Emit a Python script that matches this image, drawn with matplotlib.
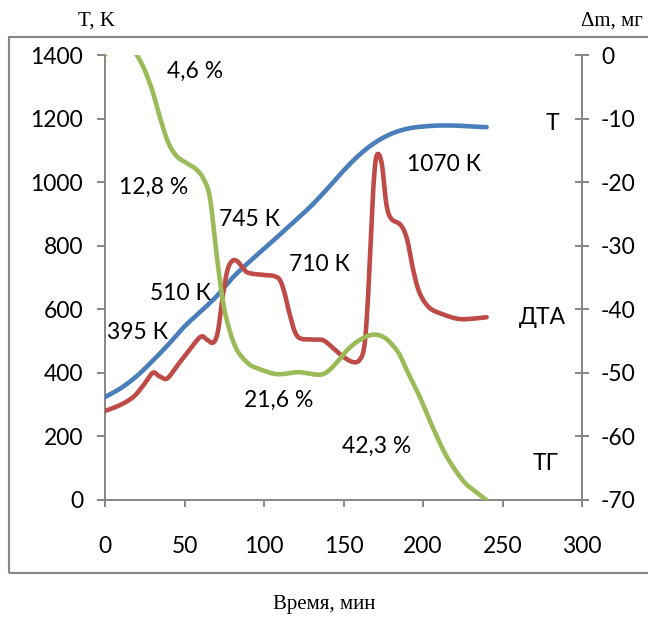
import numpy as np
import matplotlib
matplotlib.use("Agg")
import matplotlib.pyplot as plt
from matplotlib.patches import Rectangle

plt.rcParams["axes.unicode_minus"] = False

# Temperature curve T (K) vs time (min)
t_T = [0, 10, 20, 30, 40, 50, 60, 70, 80, 90, 100, 110, 120, 130, 140, 150,
       160, 170, 180, 190, 200, 210, 220, 230, 240]
T_vals = [324, 352, 390, 438, 490, 546, 592, 640, 698, 746, 790, 835, 880, 927,
          980, 1036, 1086, 1125, 1152, 1168, 1175, 1178, 1178, 1175, 1173]

# DTA curve, drawn against the temperature scale
t_dta = [0, 10, 18, 24, 30, 34, 39, 45, 52, 60, 64, 68, 71, 74, 77, 80, 83, 86, 90,
         100, 106, 110, 113, 116, 121, 130, 137, 143, 150, 156, 160, 163, 165, 167,
         169, 171, 174, 177, 180, 186, 190, 194, 198, 204, 212, 222, 230, 240]
dta_vals = [280, 300, 325, 360, 400, 390, 382, 420, 465, 513, 505, 495, 530, 640, 723,
            752, 752, 735, 715, 708, 705, 692, 650, 588, 515, 505, 503, 480, 450, 434,
            440, 480, 600, 800, 1000, 1085, 1060, 930, 885, 865, 820, 720, 650, 605,
            585, 570, 570, 575]

# TG curve, mass change (mg)
t_tg = [0, 8, 14, 20, 25, 30, 35, 40, 45, 50, 57, 62, 66, 70, 74, 78, 83, 90,
        96, 108, 121, 128, 135, 140, 146, 152, 158, 165, 171, 176, 180, 185, 190, 198,
        206, 215, 225, 232, 240]
tg_vals = [0, 2, 2, 0, -2.4, -5.8, -10.2, -13.9, -15.9, -16.8, -17.9, -19.5, -22.5,
           -31, -38.5, -43, -46.4, -48.5, -49.3, -50.2, -49.9, -50.1, -50.3,
           -49.8, -48.3, -46.5, -45.2, -44.2, -44.0, -44.5, -45.4, -47, -49.7, -53.8,
           -58.5, -63.2, -66.9, -68.5, -70]

T_ticks = [0, 200, 400, 600, 800, 1000, 1200, 1400]
m_ticks = [0, -10, -20, -30, -40, -50, -60, -70]
t_ticks = [0, 50, 100, 150, 200, 250, 300]

# Annotation texts placed in (time, T) coordinates
notes = ["4,6 %", "12,8 %", "745 К", "710 К", "510 К", "395 К", "21,6 %", "42,3 %",
         "1070 К", "Т", "ДТА", "ТГ"]
note_t = [56.5, 30.5, 91.0, 135.0, 47.5, 20.5, 109.0, 170.8, 213.0, 281.5, 275.0, 277.0]
note_T = [1350, 985, 884, 742, 651, 528, 315, 170, 1054, 1183, 573, 116]

BLUE = "#4A7EBB"
RED = "#BE4B48"
GREEN = "#9BBB59"
GRAY = "#868686"
SANS = ["Lato", "Noto Sans", "DejaVu Sans"]
SERIF = ["Liberation Serif", "DejaVu Serif"]


def catmull_rom(x, y, n=24):
    p = np.column_stack([x, y]).astype(float)
    p = np.vstack([p[0], p, p[-1]])
    s = np.linspace(0, 1, n, endpoint=False)[:, None]
    segs = []
    for i in range(1, len(p) - 2):
        p0, p1, p2, p3 = p[i - 1], p[i], p[i + 1], p[i + 2]
        segs.append(0.5 * (2 * p1 + (-p0 + p2) * s
                           + (2 * p0 - 5 * p1 + 4 * p2 - p3) * s ** 2
                           + (-p0 + 3 * p1 - 3 * p2 + p3) * s ** 3))
    segs.append(p[-2][None])
    c = np.vstack(segs)
    return c[:, 0], c[:, 1]


fig = plt.figure(figsize=(6.48, 6.19), dpi=100)
ax = fig.add_axes([105 / 648, 1 - 500 / 619, 477 / 648, 445 / 619])
ax2 = ax.twinx()

# outer frame
fig.patches.append(Rectangle((9 / 648, 1 - 573 / 619), 1.1, 536 / 619,
                             transform=fig.transFigure, fill=False,
                             edgecolor=GRAY, lw=1.5, clip_on=False))

ax.plot(*catmull_rom(t_T, T_vals), color=BLUE, lw=3.3, solid_capstyle="round", zorder=3)
ax.plot(*catmull_rom(t_dta, dta_vals), color=RED, lw=3.3, solid_capstyle="round", zorder=3)
ax2.plot(*catmull_rom(t_tg, tg_vals), color=GREEN, lw=3.3, solid_capstyle="round", zorder=3)

ax.set_xlim(0, 300)
ax.set_ylim(0, 1400)
ax2.set_ylim(-70, 0)
ax.set_xticks(t_ticks)
ax.set_yticks(T_ticks)
ax2.set_yticks(m_ticks)

for a in (ax, ax2):
    a.patch.set_visible(False)
    a.spines["top"].set_visible(False)
    for s in ("left", "right", "bottom"):
        a.spines[s].set_color(GRAY)
        a.spines[s].set_linewidth(1.4)
ax.spines["right"].set_visible(False)
ax2.spines["left"].set_visible(False)
ax2.spines["bottom"].set_visible(False)

ax.tick_params(axis="y", direction="out", length=5.8, width=1.4, color=GRAY, pad=10,
               labelsize=16.5)
ax.tick_params(axis="x", direction="out", length=5, width=1.4, color=GRAY, pad=21,
               labelsize=16.5)
ax2.tick_params(axis="y", direction="inout", length=9.4, width=1.4, color=GRAY, pad=9,
                labelsize=16.5)
for lab in ax.get_xticklabels() + ax.get_yticklabels() + ax2.get_yticklabels():
    lab.set_family(SANS)

for txt, x, y in zip(notes, note_t, note_T):
    ax.text(x, y, txt, ha="center", va="center", fontsize=16.5, family=SANS, zorder=5)

fig.text(97 / 648, 1 - 21 / 619, "T, K", ha="center", va="center", fontsize=15,
         family=SERIF)
fig.text(612 / 648, 1 - 21 / 619, "Δm, мг", ha="center", va="center", fontsize=15,
         family=SERIF)
fig.text(324 / 648, 1 - 605 / 619, "Время, мин", ha="center", va="center", fontsize=15,
         family=SERIF)

fig.savefig("out.png", dpi=100)
